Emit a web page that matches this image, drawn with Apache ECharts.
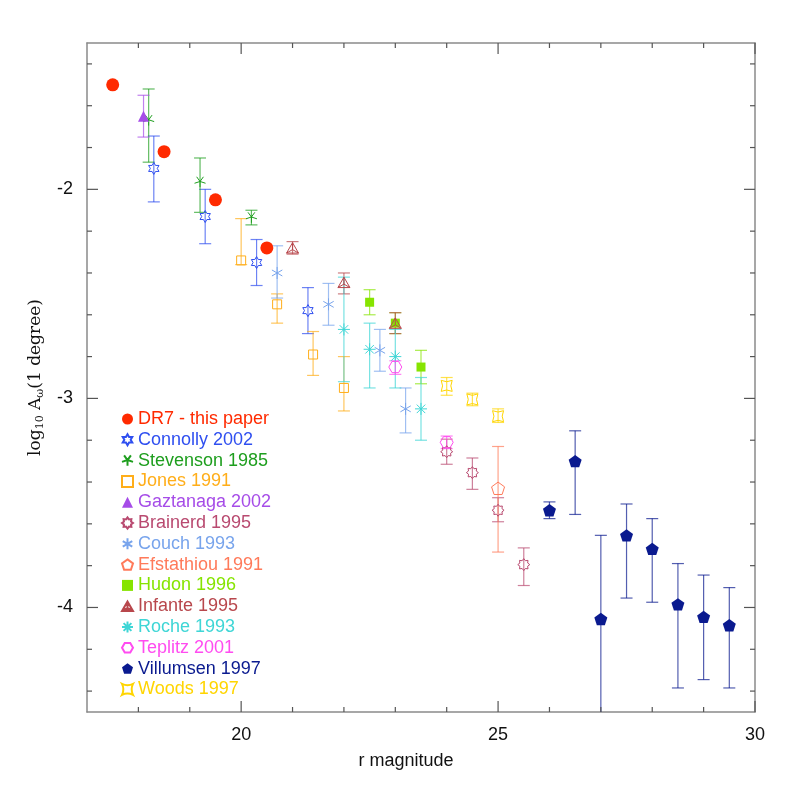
<!DOCTYPE html>
<html>
<head>
<meta charset="utf-8">
<title>log10 Aw(1 degree) vs r magnitude</title>
<script src="https://cdn.jsdelivr.net/npm/echarts@6/dist/echarts.min.js"></script>
<style>
  html, body { margin: 0; padding: 0; background: #fff; }
  #chart { width: 797px; height: 797px; }
</style>
</head>
<body>
<div id="chart"></div>
<script>
// axis ranges and tick positions
const xRange = [17, 30]
const yRange = [-4.5, -1.3]
const xMajor = [20, 25, 30]
const xMinor = [18, 19, 21, 22, 23, 24, 26, 27, 28, 29]
const yMajor = [-4, -3, -2]
const yMinor = [-4.4, -4.2, -3.8, -3.6, -3.4, -3.2, -2.8, -2.6, -2.4, -2.2, -1.8, -1.6, -1.4]

// rows: [r mag, log10 A_w, error top, error bottom]
const dr7 = [[17.5, -1.50], [18.5, -1.82], [19.5, -2.05], [20.5, -2.28]]
const connolly = [[18.3, -1.90, -1.745, -2.06], [19.3, -2.13, -2.00, -2.26], [20.3, -2.35, -2.24, -2.46], [21.3, -2.58, -2.47, -2.69]]
const stevenson = [[18.2, -1.67, -1.52, -1.87], [19.2, -1.965, -1.85, -2.11], [20.2, -2.135, -2.10, -2.17]]
const jones = [[20.0, -2.34, -2.14, -2.36], [20.7, -2.55, -2.50, -2.64], [21.4, -2.79, -2.68, -2.89], [22.0, -2.95, -2.80, -3.06]]
const gaztanaga = [[18.1, -1.65, -1.55, -1.75]]
const brainerd = [[24.0, -3.255, -3.195, -3.315], [24.5, -3.355, -3.285, -3.435], [25.0, -3.535, -3.475, -3.59], [25.5, -3.795, -3.715, -3.895]]
const couch = [[20.7, -2.40, -2.27, -2.52], [21.7, -2.55, -2.45, -2.65], [22.7, -2.77, -2.67, -2.87], [23.2, -3.05, -2.95, -3.165]]
const efstathiou = [[25.0, -3.43, -3.23, -3.735]]
const hudon = [[22.5, -2.54, -2.48, -2.60], [23.0, -2.64, -2.59, -2.69], [23.5, -2.85, -2.77, -2.93]]
const infante = [[21.0, -2.28, -2.25, -2.31], [22.0, -2.445, -2.40, -2.50], [23.0, -2.64, -2.59, -2.69]]
const roche = [[22.0, -2.67, -2.42, -2.92], [22.5, -2.765, -2.64, -2.95], [23.0, -2.80, -2.67, -2.95], [23.5, -3.05, -2.90, -3.20]]
const teplitz = [[23.0, -2.85, -2.82, -2.885], [24.0, -3.21, -3.18, -3.24]]
const villumsen = [[26.0, -3.535, -3.495, -3.575], [26.5, -3.30, -3.155, -3.555], [27.0, -4.055, -3.655, -4.60], [27.5, -3.655, -3.505, -3.955],
  [28.0, -3.72, -3.575, -3.975], [28.5, -3.985, -3.79, -4.385], [29.0, -4.045, -3.845, -4.345], [29.5, -4.085, -3.905, -4.385]]
const woods = [[24.0, -2.94, -2.90, -2.985], [24.5, -3.005, -2.975, -3.035], [25.0, -3.085, -3.05, -3.115]]

// marker shapes
const hexagram = 'path://M10,0L12.89,5L18.66,5L15.77,10L18.66,15L12.89,15L10,20L7.11,15L1.34,15L4.23,10L1.34,5L7.11,5Z'
const star5 = 'path://M10,10L10,20M10,10L0.49,13.09M10,10L4.12,1.91M10,10L15.88,1.91M10,10L19.51,13.09'
const gear = 'path://M20,10L16.47,12.68L17.07,17.07L12.68,16.47L10,20L7.32,16.47L2.93,17.07L3.53,12.68L0,10L3.53,7.32L2.93,2.93L7.32,3.53L10,0L12.68,3.53L17.07,2.93L16.47,7.32Z'
const asterisk6 = 'path://M10,0L10,20M1.34,5L18.66,15M1.34,15L18.66,5'
const asterisk8 = 'path://M10,0L10,20M0,10L20,10M2.93,2.93L17.07,17.07M2.93,17.07L17.07,2.93'
const tripod = 'path://M10,0L20,17.32L0,17.32ZM10,11.55L10,0M10,11.55L20,17.32M10,11.55L0,17.32'
const pentagon = 'path://M10,0L19.51,6.91L15.88,18.09L4.12,18.09L0.49,6.91Z'
const hexagon = 'path://M0,8.66L5,0L15,0L20,8.66L15,17.32L5,17.32Z'
const astroid = 'path://M0,0Q10,5 20,0Q15,10 20,20Q10,15 0,20Q5,10 0,0Z'

const sets = [
  { name: 'DR7 - this paper', rows: dr7, color: '#ff2a00', symbol: 'circle', size: 13, fill: true },
  { name: 'Connolly 2002', rows: connolly, color: '#2f4ff0', symbol: hexagram, size: 12 },
  { name: 'Stevenson 1985', rows: stevenson, color: '#1e9e1e', symbol: star5, size: 11 },
  { name: 'Jones 1991', rows: jones, color: '#ffae1a', symbol: 'rect', size: 9 },
  { name: 'Gaztanaga 2002', rows: gaztanaga, color: '#a64ce8', symbol: 'triangle', size: 11, fill: true },
  { name: 'Brainerd 1995', rows: brainerd, color: '#b94a70', symbol: gear, size: 12 },
  { name: 'Couch 1993', rows: couch, color: '#78a4ec', symbol: asterisk6, size: 12 },
  { name: 'Efstathiou 1991', rows: efstathiou, color: '#ff7a5a', symbol: pentagon, size: 13 },
  { name: 'Hudon 1996', rows: hudon, color: '#86e400', symbol: 'rect', size: 9, fill: true },
  { name: 'Infante 1995', rows: infante, color: '#b8474c', symbol: tripod, size: 12 },
  { name: 'Roche 1993', rows: roche, color: '#3fd6d6', symbol: asterisk8, size: 12 },
  { name: 'Teplitz 2001', rows: teplitz, color: '#ff4cf0', symbol: hexagon, size: 13 },
  { name: 'Villumsen 1997', rows: villumsen, color: '#0a1a8f', symbol: pentagon, size: 13, fill: true },
  { name: 'Woods 1997', rows: woods, color: '#ffd500', symbol: astroid, size: 11 }
]

const font = 'Liberation Sans'
const frame = { show: true, onZero: false, lineStyle: { color: '#8a8a8a', width: 1.5 } }

// vertical error bar with caps
function errBar(color) {
  return function (params, api) {
    const x = api.value(0)
    const top = api.coord([x, api.value(1)])
    const bot = api.coord([x, api.value(2)])
    const w = 6
    const style = { stroke: color, lineWidth: 1.2, opacity: 0.7 }
    return {
      type: 'group',
      children: [
        { type: 'line', shape: { x1: top[0], y1: top[1], x2: bot[0], y2: bot[1] }, style },
        { type: 'line', shape: { x1: top[0] - w, y1: top[1], x2: top[0] + w, y2: top[1] }, style },
        { type: 'line', shape: { x1: bot[0] - w, y1: bot[1], x2: bot[0] + w, y2: bot[1] }, style }
      ]
    }
  }
}

// inward ticks on all four sides of the frame
// kind: 0 x major, 1 x minor, 2 y major, 3 y minor
function tickMark(params, api) {
  const kind = api.value(2)
  const p = api.coord([api.value(0), api.value(1)])
  const cs = params.coordSys
  const len = kind % 2 === 0 ? 11 : 5
  const style = { stroke: '#555', lineWidth: 1.2 }
  let a, b
  if (kind < 2) {
    a = { x1: p[0], y1: cs.y + cs.height, x2: p[0], y2: cs.y + cs.height - len }
    b = { x1: p[0], y1: cs.y, x2: p[0], y2: cs.y + len }
  } else {
    a = { x1: cs.x, y1: p[1], x2: cs.x + len, y2: p[1] }
    b = { x1: cs.x + cs.width, y1: p[1], x2: cs.x + cs.width - len, y2: p[1] }
  }
  return { type: 'group', children: [{ type: 'line', shape: a, style }, { type: 'line', shape: b, style }] }
}

const tickData = [
  ...xMajor.map(v => [v, yRange[0], 0]),
  ...xMinor.map(v => [v, yRange[0], 1]),
  ...yMajor.map(v => [xRange[0], v, 2]),
  ...yMinor.map(v => [xRange[0], v, 3])
]

const series = [{
  name: 'ticks',
  type: 'custom',
  clip: false,
  silent: true,
  z: 5,
  renderItem: tickMark,
  data: tickData
}]

sets.forEach(s => {
  const bars = s.rows.filter(r => r.length > 2).map(r => [r[0], r[2], r[3]])
  if (bars.length) {
    series.push({
      name: s.name + ' err',
      type: 'custom',
      clip: true,
      z: 1,
      renderItem: errBar(s.color),
      data: bars
    })
  }
  series.push({
    name: s.name,
    type: 'scatter',
    z: 2,
    symbol: s.symbol,
    symbolSize: s.size,
    symbolKeepAspect: true,
    itemStyle: s.fill
      ? { color: s.color, opacity: 1 }
      : { color: 'rgba(0,0,0,0)', borderColor: s.color, borderWidth: 1, opacity: 1 },
    data: s.rows.map(r => [r[0], r[1]])
  })
})

const chart = echarts.init(document.getElementById('chart'))
chart.setOption({
  animation: false,
  backgroundColor: '#fff',
  grid: { left: 87, right: 42, top: 43, bottom: 85 },
  legend: {
    orient: 'vertical',
    left: 116,
    top: 405,
    itemWidth: 11,
    itemHeight: 11,
    itemGap: 2.8,
    textStyle: { fontFamily: font, fontSize: 18, lineHeight: 18 },
    data: sets.map(s => ({ name: s.name, textStyle: { color: s.color } }))
  },
  xAxis: [
    {
      type: 'value', position: 'bottom', min: xRange[0], max: xRange[1],
      axisLine: frame,
      axisTick: { show: false },
      axisLabel: { customValues: xMajor, margin: 14, fontSize: 18, color: '#111', fontFamily: font },
      splitLine: { show: false },
      name: 'r magnitude', nameLocation: 'middle', nameGap: 40,
      nameTextStyle: { fontSize: 18, color: '#111', fontFamily: font, padding: [0, 30, 0, 0] }
    },
    {
      type: 'value', position: 'top', min: xRange[0], max: xRange[1],
      axisLine: frame,
      axisTick: { show: false },
      axisLabel: { show: false }, splitLine: { show: false }
    }
  ],
  yAxis: [
    {
      type: 'value', position: 'left', min: yRange[0], max: yRange[1],
      axisLine: frame,
      axisTick: { show: false },
      axisLabel: { customValues: yMajor, margin: 14, fontSize: 18, color: '#111', fontFamily: font },
      splitLine: { show: false },
      name: '{m|log}{s|10}{m| A}{s|ω}{m|(1 degree)}',
      nameLocation: 'middle', nameGap: 31,
      nameTextStyle: {
        color: '#111',
        rich: {
          m: { fontFamily: 'DejaVu Serif', fontSize: 17, lineHeight: 22, color: '#111' },
          s: { fontFamily: 'DejaVu Serif', fontSize: 11, lineHeight: 14, verticalAlign: 'bottom', color: '#111' }
        }
      }
    },
    {
      type: 'value', position: 'right', min: yRange[0], max: yRange[1],
      axisLine: frame,
      axisTick: { show: false },
      axisLabel: { show: false }, splitLine: { show: false }
    }
  ],
  series
})
</script>
</body>
</html>
